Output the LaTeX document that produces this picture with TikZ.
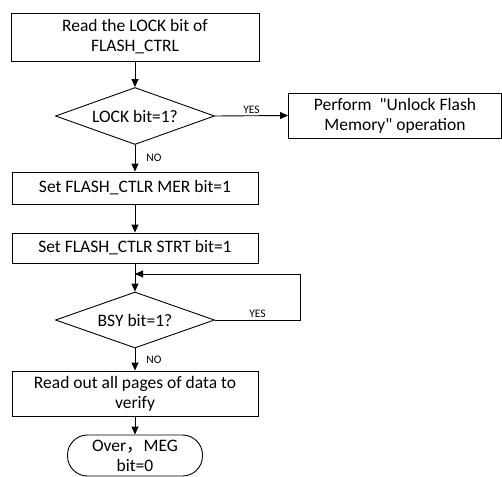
\documentclass[tikz,border=0pt]{standalone}
\usepackage{fontspec}
\setmainfont{Carlito}
\newfontfamily\cjk{Noto Sans CJK SC}
\usetikzlibrary{arrows.meta, shapes.geometric}

\begin{document}
\begin{tikzpicture}[
  x=1pt, y=-1pt,
  font=\fontsize{17.5}{20}\selectfont,
  box/.style={draw, line width=0.9pt, minimum height=30pt, align=center, inner sep=2pt},
  decision/.style={draw, diamond, aspect=2.8, line width=0.9pt, minimum width=159pt,
                   minimum height=57pt, inner sep=0pt, align=center},
  terminal/.style={draw, line width=0.9pt, rounded corners=20pt, minimum width=135pt,
                   minimum height=41pt, align=center, inner sep=0pt},
  lbl/.style={font=\fontsize{11.5}{13}\selectfont, inner sep=2pt},
  arr/.style={-{Triangle[length=8pt, width=7pt]}, line width=0.9pt},
]
\useasboundingbox (0,0) rectangle (502,476);

\node[box, minimum width=248pt, minimum height=48pt] (readlock) at (135,37)
  {Read the LOCK bit of\\FLASH\_CTRL};
\node[decision] (lock) at (135,116) {LOCK bit=1?};
\node[box, minimum width=213pt, minimum height=45pt] (unlock) at (395,115.5)
  {Perform\ \ \textquotedbl Unlock Flash\\Memory\textquotedbl\ operation};
\node[box, minimum width=246pt, minimum height=32pt] (mer) at (135,188)
  {Set FLASH\_CTLR MER bit=1};
\node[box, minimum width=246pt, minimum height=30pt] (strt) at (135,248)
  {Set FLASH\_CTLR STRT bit=1};
\node[decision, minimum height=56pt] (bsy) at (135,320) {BSY bit=1?};
\node[box, minimum width=246pt, minimum height=45pt] (verify) at (135,393.5)
  {Read out all pages of data to\\verify};
\node[terminal] (over) at (135,455.5) {Over{\cjk ，}MEG\\bit=0};

\coordinate (loopin) at (135,274);

\draw[arr] (readlock) -- (lock);
\draw[arr] (lock.east) -- node[lbl, above] (yes1) {YES} (unlock.west);
\draw[arr] (lock) -- node[lbl, right, xshift=9pt] (no1) {NO} (mer);
\draw[arr] (mer) -- (strt);
\draw[arr] (strt) -- (bsy);
\draw[arr] (bsy.east) -- node[lbl, above] (yes2) {YES} ++(85,0) |- (loopin);
\draw[arr] (bsy) -- node[lbl, right, xshift=9pt] (no2) {NO} (verify);
\draw[arr] (verify) -- (over);

\end{tikzpicture}
\end{document}
